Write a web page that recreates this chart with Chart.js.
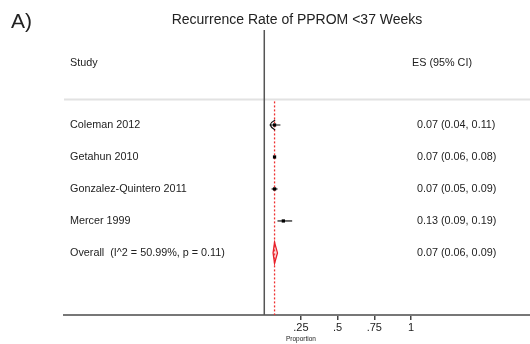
<!DOCTYPE html>
<html>
<head>
<meta charset="utf-8">
<title>Recurrence Rate of PPROM &lt;37 Weeks</title>
<script src="https://cdn.jsdelivr.net/npm/chart.js@4"></script>
<style>
  html, body { margin: 0; padding: 0; background: #fff; }
  #wrap { width: 530px; height: 344px; }
</style>
</head>
<body>
<div id="wrap"><canvas id="forestChart" width="530" height="344"></canvas></div>
<script>
// study-level estimates (proportion with 95% CI)
const studies = ['Coleman 2012', 'Getahun 2010', 'Gonzalez-Quintero 2011', 'Mercer 1999'];
const es = [0.07, 0.07, 0.07, 0.13];
const ciLow = [0.04, 0.06, 0.05, 0.09];
const ciHigh = [0.11, 0.08, 0.09, 0.19];
const ciArrow = [true, false, false, false];

// pooled estimate
const overallLabel = 'Overall  (I^2 = 50.99%, p = 0.11)';
const overallEs = 0.07;
const overallLow = 0.06;
const overallHigh = 0.09;

// axis
const tickValues = [0.25, 0.5, 0.75, 1];
const tickLabels = ['.25', '.5', '.75', '1'];
const xTitle = 'Proportion';

const fmt = v => v.toFixed(2);
const font = 'Liberation Sans, Arial, sans-serif';

const forestPlugin = {
    id: 'forest',
    beforeDatasetsDraw(chart) {
        const { ctx, chartArea, scales: { x, y } } = chart;
        const sepY = y.getPixelForValue(-0.8);
        ctx.save();

        // separator under the header row
        ctx.strokeStyle = '#e2e2e2';
        ctx.lineWidth = 2;
        ctx.beginPath();
        ctx.moveTo(chartArea.left, sepY);
        ctx.lineTo(chartArea.right, sepY);
        ctx.stroke();

        // line of no effect
        const x0 = x.getPixelForValue(0);
        ctx.strokeStyle = '#555';
        ctx.lineWidth = 1.5;
        ctx.beginPath();
        ctx.moveTo(x0, chartArea.top);
        ctx.lineTo(x0, chartArea.bottom);
        ctx.stroke();

        // pooled estimate line
        const xo = x.getPixelForValue(overallEs);
        ctx.strokeStyle = '#ee3030';
        ctx.lineWidth = 1.3;
        ctx.setLineDash([2, 2]);
        ctx.beginPath();
        ctx.moveTo(xo, sepY + 2);
        ctx.lineTo(xo, chartArea.bottom);
        ctx.stroke();
        ctx.setLineDash([]);

        // confidence intervals
        ctx.strokeStyle = '#111';
        ctx.lineWidth = 1.2;
        studies.forEach((s, i) => {
            const py = y.getPixelForValue(i);
            const a = x.getPixelForValue(ciLow[i]);
            const b = x.getPixelForValue(ciHigh[i]);
            ctx.beginPath();
            ctx.moveTo(a, py);
            ctx.lineTo(b, py);
            if (ciArrow[i]) {
                ctx.moveTo(a + 5, py - 5);
                ctx.quadraticCurveTo(a + 1, py - 3, a, py);
                ctx.quadraticCurveTo(a + 1, py + 3, a + 5, py + 5);
            }
            ctx.stroke();
        });

        // pooled diamond
        const dy = y.getPixelForValue(studies.length);
        ctx.strokeStyle = '#e8202a';
        ctx.fillStyle = 'rgba(240, 120, 120, 0.25)';
        ctx.lineWidth = 1.3;
        ctx.beginPath();
        ctx.moveTo(x.getPixelForValue(overallLow), dy);
        ctx.lineTo(xo, dy - 10.5);
        ctx.lineTo(x.getPixelForValue(overallHigh), dy);
        ctx.lineTo(xo, dy + 10.5);
        ctx.closePath();
        ctx.fill();
        ctx.stroke();
        ctx.restore();
    },
    afterDraw(chart) {
        const { ctx, scales: { x, y } } = chart;
        ctx.save();
        ctx.fillStyle = '#222';
        ctx.textBaseline = 'middle';

        ctx.font = '21px ' + font;
        ctx.textAlign = 'left';
        ctx.fillText('A)', 11, 22);

        ctx.font = '14px ' + font;
        ctx.textAlign = 'center';
        ctx.fillText('Recurrence Rate of PPROM <37 Weeks', 297, 20);

        ctx.font = '10.8px ' + font;
        ctx.textAlign = 'left';
        const headY = y.getPixelForValue(-1.95);
        ctx.fillText('Study', 70, headY);
        ctx.fillText('ES (95% CI)', 412, headY);

        studies.forEach((s, i) => {
            const py = y.getPixelForValue(i);
            ctx.fillText(s, 70, py);
            ctx.fillText(fmt(es[i]) + ' (' + fmt(ciLow[i]) + ', ' + fmt(ciHigh[i]) + ')', 417, py);
        });
        const oy = y.getPixelForValue(studies.length);
        ctx.fillText(overallLabel, 70, oy);
        ctx.fillText(fmt(overallEs) + ' (' + fmt(overallLow) + ', ' + fmt(overallHigh) + ')', 417, oy);

        ctx.font = '6.5px ' + font;
        ctx.textAlign = 'center';
        ctx.fillText(xTitle, x.getPixelForValue(0.25), 339);
        ctx.restore();
    }
};

const ctx = document.getElementById('forestChart').getContext('2d');
const forestChart = new Chart(ctx, {
    type: 'scatter',
    data: {
        datasets: [{
            data: es.map((v, i) => ({ x: v, y: i })),
            pointStyle: 'rect',
            pointRadius: 2.3,
            pointHoverRadius: 2.3,
            backgroundColor: '#000',
            borderWidth: 0
        }]
    },
    options: {
        responsive: false,
        animation: false,
        layout: { autoPadding: false, padding: { left: 64, top: 30, right: 0, bottom: 0 } },
        plugins: {
            legend: { display: false },
            tooltip: { enabled: false }
        },
        scales: {
            x: {
                type: 'linear',
                min: -1.365,
                max: 1.811,
                afterBuildTicks: s => { s.ticks = tickValues.map(v => ({ value: v })); },
                afterFit: s => { s.height = 29; },
                ticks: {
                    autoSkip: false,
                    maxRotation: 0,
                    padding: 1,
                    color: '#222',
                    font: { family: font, size: 11 },
                    callback: v => tickLabels[tickValues.indexOf(v)]
                },
                grid: {
                    drawOnChartArea: false,
                    drawTicks: true,
                    tickLength: 5,
                    color: '#444',
                    lineWidth: 1.5
                },
                border: { display: true, color: '#777', width: 2 }
            },
            y: {
                type: 'linear',
                display: false,
                reverse: true,
                min: -2.97,
                max: 5.94
            }
        }
    },
    plugins: [forestPlugin]
});
</script>
</body>
</html>
